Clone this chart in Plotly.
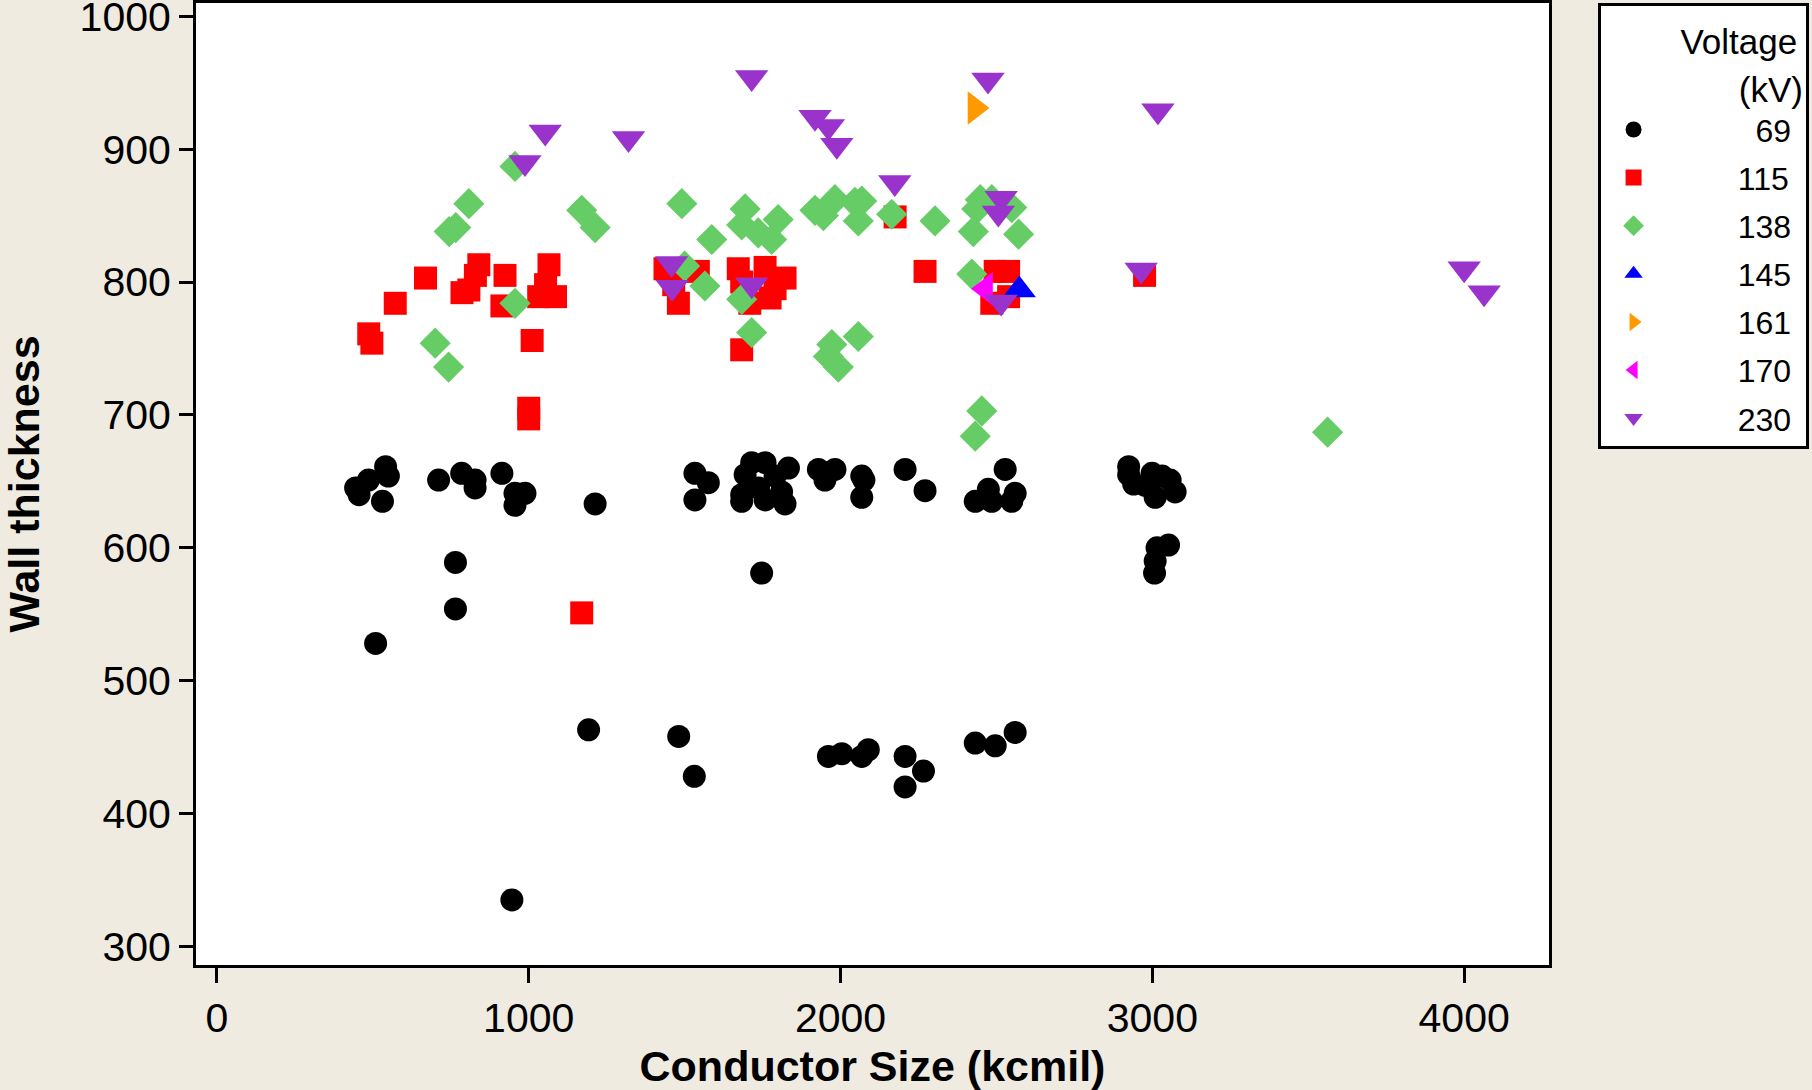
import plotly.graph_objects as go

# ---- data ----
v69_x = [445, 456, 486, 541, 550, 531, 711, 785, 828, 828, 914, 956, 988, 956, 1213,
         765, 765, 509, 1192, 1481, 1531, 946, 1533, 1533, 1576,
         1715, 1758, 1694, 1833, 1790, 1683, 1683, 1758, 1822, 1737, 1811, 1747,
         1929, 1982, 1950, 2068, 2075, 2068, 2207, 2271, 2528, 2432, 2474, 2485, 2560, 2549,
         2924, 2924, 2940, 2999, 3031, 3057, 3073, 3009, 2977, 3052, 3015, 3009, 3007,
         1961, 2004, 2068, 2089, 2207, 2266, 2207, 2432, 2496, 2560]
v69_y = [645, 640, 651, 661, 654, 635, 651, 656, 651, 645, 656, 641, 641, 632, 633,
         589, 554, 528, 463, 458, 428, 335, 656, 636, 649,
         664, 664, 655, 660, 654, 640, 635, 636, 633, 645, 642, 581,
         659, 659, 651, 654, 651, 638, 659, 643, 659, 635, 644, 635, 641, 635,
         661, 655, 648, 656, 654, 651, 642, 638, 647, 602, 600, 590, 581,
         443, 445, 443, 448, 443, 432, 420, 453, 451, 461]

v115_x = [669, 572, 487, 497, 840, 829, 808, 786, 924, 914, 1065, 1054, 1032, 1086, 1011,
          1000, 1000, 1170, 1437, 1465, 1480, 1544,
          1672, 1758, 1822, 1790, 1774, 1709, 1683, 1683,
          2175, 2271, 2496, 2539, 2485, 2539, 2975]
v115_y = [803, 784, 761, 754, 813, 805, 794, 792, 805, 782, 813, 798, 789, 789, 756,
          705, 697, 551, 810, 798, 784, 808,
          810, 811, 803, 795, 788, 784, 800, 749,
          849, 808, 808, 808, 784, 789, 805]

v138_x = [956, 808, 766, 745, 1170, 1213, 1491, 956, 700, 743,
          1500, 1565, 1587, 1683, 1715,
          1694, 1683, 1736, 1800, 1779, 1918, 1982, 1945, 2046, 2068, 2057, 2164, 2303,
          2448, 2437, 2485, 2549, 2426, 2571,
          1972, 2057, 1961, 1993, 2421, 2453, 2432, 3562]
v138_y = [887, 859, 841, 838, 854, 841, 859, 784, 754, 736,
          812, 797, 832, 787, 762,
          855, 843, 837, 847, 832, 854, 862, 850, 860, 861, 846, 851, 846,
          862, 855, 862, 856, 838, 836,
          753, 759, 744, 736, 806, 703, 684, 687]

v145_x = [2573]
v145_y = [794]

v161_x = [2431]
v161_y = [931]

v170_x = [2465]
v170_y = [795]

v230_x = [1053, 1320, 988, 1458, 1460, 1715, 1918, 1961, 1988, 2473, 3018, 2174,
          2515, 2506, 1715, 2515, 2964, 4000, 4064]
v230_y = [913, 908, 890, 814, 796, 954, 924, 917, 903, 952, 929, 875,
          863, 852, 798, 785, 809, 810, 792]

x_ticks = [0, 1000, 2000, 3000, 4000]
y_ticks = [300, 400, 500, 600, 700, 800, 900, 1000]

series = [
    ("69", v69_x, v69_y, "circle", "#000000", 23),
    ("115", v115_x, v115_y, "square", "#FF0000", 23),
    ("138", v138_x, v138_y, "diamond", "#66CC66", 24),
    ("145", v145_x, v145_y, "triangle-up", "#0000FF", 29),
    ("161", v161_x, v161_y, "triangle-right", "#FF9900", 29),
    ("170", v170_x, v170_y, "triangle-left", "#FF00FF", 29),
    ("230", v230_x, v230_y, "triangle-down", "#9933CC", 29),
]

FS = "\u2007"
fig = go.Figure()
for name, xs, ys, sym, col, sz in series:
    label = FS * (7 - len(name)) + name
    fig.add_trace(go.Scatter(
        x=xs, y=ys, mode="markers", name=label, legendgroup=name,
        marker=dict(symbol=sym, color=col, size=sz, line=dict(width=0)),
    ))

FONT = "Liberation Sans, Arial, sans-serif"
tick_font = dict(family=FONT, size=41, color="black")
title_font = dict(family=FONT, size=43, color="black")

legend_title = ('<span style="font-size:35px">' + FS * 4 + "Voltage</span><br>"
                '<span style="font-size:35px">' + FS * 7 + "(kV)</span>")

fig.update_layout(
    width=1812, height=1090,
    paper_bgcolor="#EFEBE1",
    plot_bgcolor="white",
    margin=dict(l=196, r=263, t=3, b=125),
    showlegend=True,
    legend=dict(
        x=1.0359, xanchor="left", y=1, yanchor="top",
        bgcolor="white", bordercolor="black", borderwidth=3,
        font=dict(family=FONT, size=32, color="black"),
        title=dict(text=legend_title, side="top",
                   font=dict(family=FONT, size=37, color="black")),
        itemwidth=56,
        traceorder="grouped",
        tracegroupgap=3.5,
    ),
    xaxis=dict(
        range=[-67, 4272], tickvals=x_ticks, ticktext=[str(v) for v in x_ticks],
        showgrid=False, zeroline=False, automargin=False,
        showline=True, linecolor="black", linewidth=3, mirror=True,
        ticks="outside", ticklen=15, tickwidth=3, tickcolor="black",
        tickfont=tick_font, ticklabeloverflow="allow",
        title=dict(text="<b>Conductor Size (kcmil)</b>", font=title_font, standoff=21),
    ),
    yaxis=dict(
        range=[286, 1010], tickvals=y_ticks, ticktext=[str(v) for v in y_ticks],
        showgrid=False, zeroline=False, automargin=False,
        showline=True, linecolor="black", linewidth=3, mirror=True,
        ticks="outside", ticklen=14, tickwidth=3, tickcolor="black",
        tickfont=tick_font, ticklabeloverflow="allow",
        title=dict(text="<b>Wall thickness</b>", font=title_font, standoff=68),
    ),
)

fig.write_html("out.html", config={"displayModeBar": False},
               post_script="document.body.style.margin='0';")
